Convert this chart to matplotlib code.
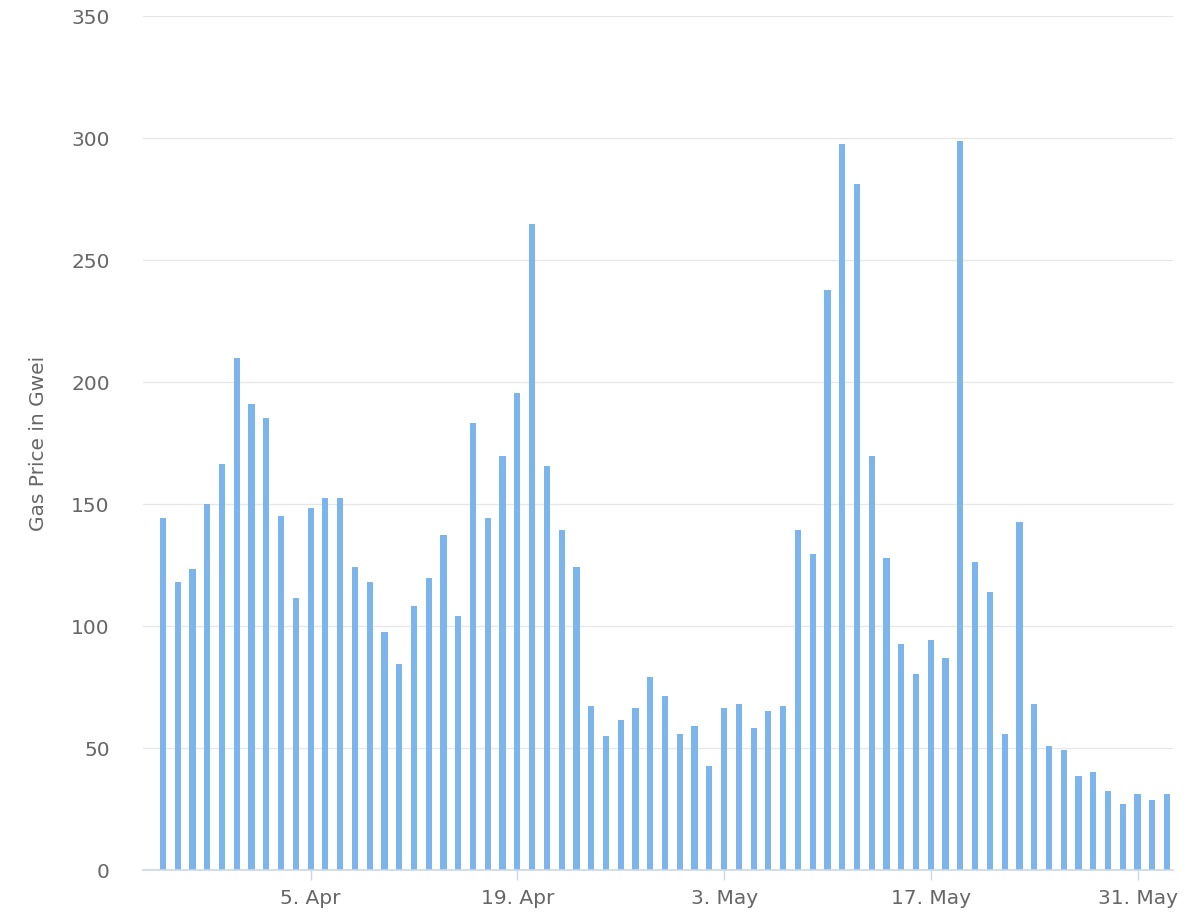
import pandas as pd
import matplotlib
matplotlib.use("Agg")
import matplotlib.pyplot as plt
import matplotlib.dates as mdates

# daily gas price in Gwei (26 Mar - 2 Jun)
start_date = "2021-03-26"
gas_price = [
    144.4, 118.2, 123.2, 150.2, 166.5, 210.0, 191.1, 185.3, 145.2, 111.6,
    148.4, 152.6, 152.6, 124.0, 118.2, 97.7, 84.6, 108.3, 119.8, 137.1,
    104.3, 183.0, 144.4, 169.8, 195.3, 264.8, 165.7, 139.5, 124.0, 67.3,
    55.0, 61.6, 66.5, 78.9, 71.5, 55.8, 59.2, 42.7, 66.5, 68.1,
    58.4, 65.0, 67.3, 139.5, 129.7, 237.8, 297.6, 281.3, 169.8, 127.9,
    92.8, 80.5, 94.4, 87.0, 298.6, 126.3, 114.0, 55.8, 142.8, 68.1,
    50.9, 49.3, 38.7, 40.3, 32.2, 27.2, 31.2, 28.8, 31.2,
]
tick_dates = ["2021-04-05", "2021-04-19", "2021-05-03", "2021-05-17", "2021-05-31"]
tick_labels = ["5. Apr", "19. Apr", "3. May", "17. May", "31. May"]
y_ticks = [0, 50, 100, 150, 200, 250, 300, 350]

dates = pd.date_range(start_date, periods=len(gas_price), freq="D")
x = mdates.date2num(dates)

text_color = "#666666"
axis_color = "#ccd6eb"

fig = plt.figure(figsize=(11.94, 9.14), dpi=100)
ax = fig.add_axes([143 / 1194, 44 / 914, 1030 / 1194, 854 / 914])

ax.bar(x, gas_price, width=0.42, color="#7cb5ec", zorder=3)

ax.set_ylim(0, 350)
ax.set_xlim(x[0] - 1.35, x[-1] + 0.4)

ax.set_yticks(y_ticks)
ax.set_yticklabels([str(v) for v in y_ticks])
ax.set_xticks(mdates.date2num(pd.to_datetime(tick_dates)))
ax.set_xticklabels(tick_labels)

ax.grid(axis="y", color="#e6e6e6", linewidth=0.9, zorder=0)
ax.set_axisbelow(True)

for side in ["left", "top", "right"]:
    ax.spines[side].set_visible(False)
ax.spines["bottom"].set_color(axis_color)
ax.spines["bottom"].set_linewidth(1.2)
ax.spines["bottom"].set_zorder(4)

ax.tick_params(axis="y", length=0, pad=24, labelsize=14.5, labelcolor=text_color)
ax.tick_params(axis="x", length=7.5, width=1, color=axis_color, pad=6,
               labelsize=14.5, labelcolor=text_color)

ax.set_ylabel("Gas Price in Gwei", fontsize=14.5, color=text_color)
ax.yaxis.set_label_coords(-0.092, 0.5)

fig.savefig("out.png", dpi=100)
